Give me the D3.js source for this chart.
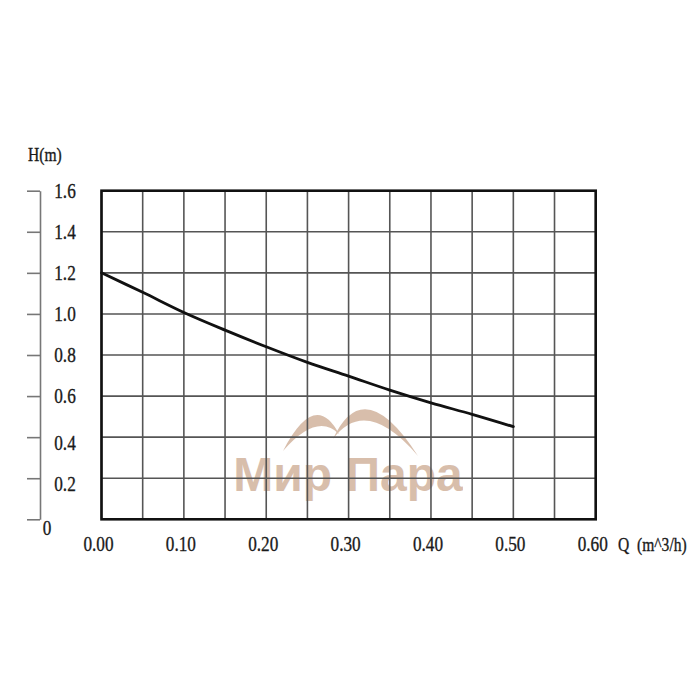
<!DOCTYPE html>
<html>
<head>
<meta charset="utf-8">
<script src="https://cdn.jsdelivr.net/npm/d3@7"></script>
<style>
    html, body { margin: 0; padding: 0; background: #fff; }
    #chart { width: 700px; height: 700px; }
    text { font-family: "Liberation Serif", "DejaVu Serif", serif; fill: #1a1a1a; stroke: #1a1a1a; stroke-width: 0.35; }
</style>
</head>
<body>
<div id="chart"></div>
<script>
// pump curve
var flowQ = [0, 0.05, 0.10, 0.15, 0.20, 0.25, 0.30, 0.35, 0.40, 0.45, 0.50];
var headH = [1.2, 1.105, 1.007, 0.921, 0.84, 0.764, 0.697, 0.629, 0.567, 0.511, 0.451];

// grid + tick labels
var gridQ = [0, 0.05, 0.10, 0.15, 0.20, 0.25, 0.30, 0.35, 0.40, 0.45, 0.50, 0.55, 0.60];
var tickQ = [0, 0.10, 0.20, 0.30, 0.40, 0.50, 0.60];
var tickQLabels = ['0.00', '0.10', '0.20', '0.30', '0.40', '0.50', '0.60'];
var tickH = [0, 0.2, 0.4, 0.6, 0.8, 1.0, 1.2, 1.4, 1.6];
var tickHLabels = ['0', '0.2', '0.4', '0.6', '0.8', '1.0', '1.2', '1.4', '1.6'];
var xTitle = 'Q (m^3/h)';
var yTitle = 'H(m)';
var watermark = 'Мир Пара';

var W = 700, H = 700;
// note: "top" is taken by window.top, so prefix everything
var pLeft = 101.5, pTop = 190.7, pRight = 595.7, pBottom = 519.3;
var squeeze = 0.82; // the labels use a narrow font

var svg = d3.select('#chart').append('svg')
    .attr('width', W)
    .attr('height', H);

var x = d3.scaleLinear().domain([0, 0.6]).range([pLeft, pRight]);
var y = d3.scaleLinear().domain([0, 1.6]).range([pBottom, pTop]);

var narrow = function(tx, ty) {
    return 'translate(' + tx + ',' + ty + ') scale(' + squeeze + ',1)';
};

// watermark sits under the grid
var wm = svg.append('g').attr('class', 'watermark').style('opacity', 0.8);
var crescents = [
    // start, outer control, inner control, end
    [[283, 451], [315, 389], [317, 412], [339, 434]],
    [[333, 439], [364, 372], [366, 395], [418, 456]]
];
wm.selectAll('path')
    .data(crescents)
    .enter().append('path')
    .attr('d', function(c) {
        return 'M' + c[0] + 'Q' + c[1] + ' ' + c[3] + 'Q' + c[2] + ' ' + c[0] + 'Z';
    })
    .style('fill', '#cfae97');
wm.append('text')
    .attr('x', 348)
    .attr('y', 491)
    .attr('text-anchor', 'middle')
    .style('font-family', '"Liberation Sans", Arial, sans-serif')
    .style('font-weight', 'bold')
    .style('font-size', '48px')
    .style('fill', '#cfae97')
    .style('stroke', 'none')
    .text(watermark);

// grid lines
var grid = svg.append('g').attr('class', 'grid');
grid.selectAll('line.v')
    .data(gridQ)
    .enter().append('line')
    .attr('class', 'v')
    .attr('x1', function(d) { return x(d); })
    .attr('x2', function(d) { return x(d); })
    .attr('y1', pTop)
    .attr('y2', pBottom);
grid.selectAll('line.h')
    .data(tickH)
    .enter().append('line')
    .attr('class', 'h')
    .attr('x1', pLeft)
    .attr('x2', pRight)
    .attr('y1', function(d) { return y(d); })
    .attr('y2', function(d) { return y(d); });
grid.selectAll('line')
    .style('stroke', '#555')
    .style('stroke-width', 1.6);

// frame
svg.append('rect')
    .attr('x', pLeft)
    .attr('y', pTop)
    .attr('width', pRight - pLeft)
    .attr('height', pBottom - pTop)
    .style('fill', 'none')
    .style('stroke', '#111')
    .style('stroke-width', 2.6);

// the curve
var line = d3.line()
    .x(function(d, i) { return x(flowQ[i]); })
    .y(function(d) { return y(d); })
    .curve(d3.curveCatmullRom);
svg.append('path')
    .datum(headH)
    .attr('d', line)
    .style('fill', 'none')
    .style('stroke', '#111')
    .style('stroke-width', 2.8)
    .style('stroke-linecap', 'round');

// detached left axis
var yAxis = d3.axisLeft(y)
    .tickValues(tickH)
    .tickSize(13)
    .tickSizeOuter(0)
    .tickFormat('');
var gy = svg.append('g')
    .attr('transform', 'translate(40,0)')
    .call(yAxis);
gy.select('.domain').style('stroke', '#777').style('stroke-width', 1.6);
gy.selectAll('.tick line').style('stroke', '#777').style('stroke-width', 1.6);

svg.append('g').selectAll('text')
    .data(tickH)
    .enter().append('text')
    .attr('transform', function(d) {
        if (d === 0) return narrow(47, y(d) + 16);
        return narrow(65, y(d) + (d < 0.5 ? 13 : 7));
    })
    .attr('text-anchor', 'middle')
    .style('font-size', '21px')
    .text(function(d, i) { return tickHLabels[i]; });

// bottom labels
svg.append('g').selectAll('text')
    .data(tickQ)
    .enter().append('text')
    .attr('transform', function(d) { return narrow(x(d) - 3, 551); })
    .attr('text-anchor', 'middle')
    .style('font-size', '21px')
    .text(function(d, i) { return tickQLabels[i]; });

svg.append('text')
    .attr('transform', narrow(618, 551))
    .style('font-size', '19px')
    .style('white-space', 'pre')
    .text(xTitle.replace(' ', '  '));

svg.append('text')
    .attr('transform', narrow(28, 161))
    .style('font-size', '19px')
    .text(yTitle);
</script>
</body>
</html>
